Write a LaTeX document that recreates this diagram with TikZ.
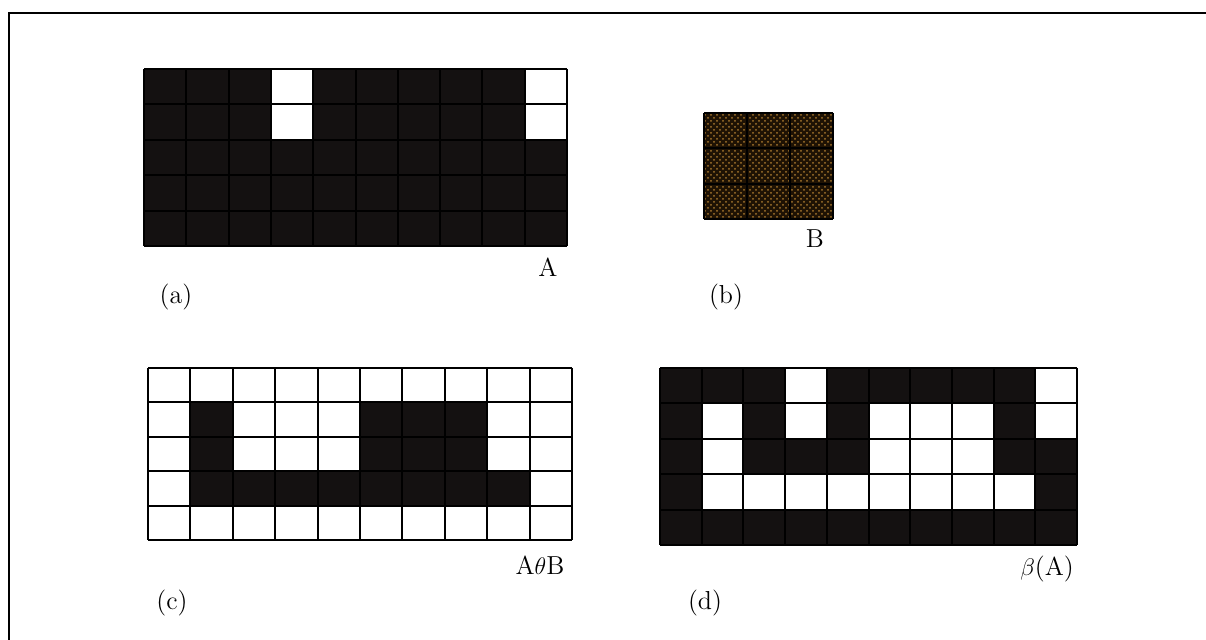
\documentclass[tikz,border=0pt]{standalone}
\usepackage{amsmath,amssymb}
\usetikzlibrary{patterns}
\definecolor{pix}{RGB}{20,17,17}
\definecolor{bbrown}{RGB}{30,18,4}
\definecolor{bdot}{RGB}{165,118,45}
\tikzset{every node/.style={font=\fontsize{13}{15}\selectfont},frame/.style={line width=1pt},gridline/.style={line width=1pt,draw=black},
 pixon/.style={fill=pix},pixoff/.style={fill=white},setb/.style={pattern=crosshatch dots,pattern color=bdot}}
\newcommand{\pixlines}[2]{\foreach \c in {0,...,#1} \draw[gridline] (\c,0)--(\c,#2);\foreach \r in {0,...,#2} \draw[gridline] (0,\r)--(#1,\r);}

\begin{document}
\begin{tikzpicture}[x=0.5pt,y=-0.5pt]
\useasboundingbox (0,0) rectangle (1206,640);
\draw[frame] (9,640)--(9,13)--(1206,13);
% (a) set A
\begin{scope}[shift={(144,69)},x=21.15pt,y=-17.75pt]
\fill[pixon] (0,0) rectangle (10,5);
\foreach \r/\c in {0/3,1/3,0/9,1/9} \fill[pixoff] (\c,\r) rectangle ++(1,1);
\pixlines{10}{5}
\end{scope}
\node (lblA) at (548,267) {A};\node (capa) at (176,297) {(a)};
% (b) structuring element B
\begin{scope}[shift={(704,113)},x=21.5pt,y=-17.65pt]
\fill[bbrown] (0,0) rectangle (3,3);\fill[setb] (0,0) rectangle (3,3);
\pixlines{3}{3}
\end{scope}
\node (lblB) at (815,239) {B};\node (capb) at (726,297) {(b)};
% (c) erosion
\begin{scope}[shift={(148,368)},x=21.2pt,y=-17.2pt]
\fill[pixoff] (0,0) rectangle (10,5);
\foreach \r/\c in {1/1,2/1,1/5,1/6,1/7,2/5,2/6,2/7} \fill[pixon] (\c,\r) rectangle ++(1,1);
\foreach \c in {1,...,8} \fill[pixon] (\c,3) rectangle ++(1,1);
\pixlines{10}{5}
\end{scope}
\node (lblC) at (540,565) {A$\theta$B};\node (capc) at (172,603) {(c)};
% (d) boundary
\begin{scope}[shift={(660,368)},x=20.85pt,y=-17.7pt]
\fill[pixon] (0,0) rectangle (10,5);
\foreach \r/\c in {0/3,0/9,1/1,1/3,1/5,1/6,1/7,1/9,2/1,2/5,2/6,2/7} \fill[pixoff] (\c,\r) rectangle ++(1,1);
\foreach \c in {1,...,8} \fill[pixoff] (\c,3) rectangle ++(1,1);
\pixlines{10}{5}
\end{scope}
\node (lblD) at (1047,569) {$\beta$(A)};\node (capd) at (705,603) {(d)};
\end{tikzpicture}
\end{document}
